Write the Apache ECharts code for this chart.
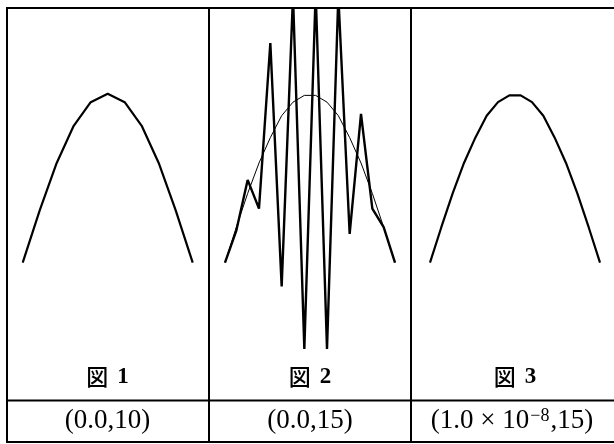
<!DOCTYPE html>
<html lang="ja">
<head>
  <meta charset="UTF-8">
  <title>図 1-3</title>
  <script src="https://cdn.jsdelivr.net/npm/echarts@6/dist/echarts.min.js"></script>
  <style>
    body { margin: 0; background: #fff; }
    #main { width: 614px; height: 444px; }
  </style>
</head>
<body>
  <div id="main"></div>
  <script>
    // 格子点
    const ticks10 = ['0', '1', '2', '3', '4', '5', '6', '7', '8', '9', '10'];
    const ticks15 = ['0', '1', '2', '3', '4', '5', '6', '7', '8', '9', '10', '11', '12', '13', '14', '15'];

    // 図 1 (0.0,10)
    const fig1 = [0, 0.31, 0.59, 0.81, 0.95, 1.0, 0.95, 0.81, 0.59, 0.31, 0];
    // 図 2 (0.0,15) : 計算値 と 細線
    const fig2 = [0, 0.19, 0.49, 0.32, 1.30, -0.14, 1.58, -0.51, 1.60, -0.51, 1.58, 0.17, 0.88, 0.32, 0.21, 0];
    const fig2Thin = [0, 0.21, 0.41, 0.59, 0.74, 0.87, 0.95, 0.99, 0.99, 0.95, 0.87, 0.74, 0.59, 0.41, 0.21, 0];
    // 図 3 (1.0e-8,15)
    const fig3 = [0, 0.21, 0.41, 0.59, 0.74, 0.87, 0.95, 0.99, 0.99, 0.95, 0.87, 0.74, 0.59, 0.41, 0.21, 0];

    const figNames = ['1', '2', '3'];

    const chart = echarts.init(document.getElementById('main'));

    const Y_MIN = -0.6, Y_MAX = 1.5;
    const ZERO_Y = 262.7, UNIT = 169;
    const gridTop = ZERO_Y - Y_MAX * UNIT;
    const gridH = (Y_MAX - Y_MIN) * UNIT;
    const lefts = [22.7, 225, 430];

    const grids = lefts.map(l => ({ left: l, top: gridTop, width: 170, height: gridH }));
    const xAxes = [ticks10, ticks15, ticks15].map((d, i) => ({
      type: 'category', gridIndex: i, data: d, boundaryGap: false, show: false
    }));
    const yAxes = [0, 1, 2].map(i => ({
      type: 'value', gridIndex: i, min: Y_MIN, max: Y_MAX, show: false
    }));

    const line = (data, i, w) => ({
      type: 'line', xAxisIndex: i, yAxisIndex: i, data: data,
      symbol: 'none', clip: true,
      lineStyle: { color: '#000', width: w }
    });

    // 表の罫線
    const rule = (x1, y1, x2, y2) => ({
      type: 'line', z: 10,
      shape: { x1: x1, y1: y1, x2: x2, y2: y2 },
      style: { stroke: '#000', lineWidth: 2 }
    });

    const labelRich = {
      a: { fontFamily: 'Noto Sans CJK JP', fontSize: 22, fontWeight: 500, color: '#000' },
      b: { fontFamily: 'Liberation Serif', fontWeight: 'bold', fontSize: 23, color: '#000', padding: [0, 0, 0, 9] }
    };
    const centers = [107.5, 310, 515];

    const texts = [];
    centers.forEach((cx, i) => {
      texts.push({
        type: 'text', x: cx, y: 377, z: 10,
        style: {
          text: '{a|図}{b|' + figNames[i] + '}',
          rich: labelRich, align: 'center', verticalAlign: 'middle'
        }
      });
    });
    const paramRich = {
      t: { fontFamily: 'Liberation Serif', fontSize: 27, color: '#000' },
      s: { fontFamily: 'Liberation Serif', fontSize: 18, color: '#000', verticalAlign: 'top', padding: [0, 1, 10, 1] }
    };
    const params = ['{t|(0.0,10)}', '{t|(0.0,15)}', '{t|(1.0 × 10}{s|−8}{t|,15)}'];
    [107.5, 310, 512].forEach((cx, i) => {
      texts.push({
        type: 'text', x: cx, y: 421, z: 10,
        style: { text: params[i], rich: paramRich, align: 'center', verticalAlign: 'middle' }
      });
    });

    chart.setOption({
      animation: false,
      grid: grids,
      xAxis: xAxes,
      yAxis: yAxes,
      series: [
        line(fig1, 0, 2.2),
        line(fig2Thin, 1, 1),
        line(fig2, 1, 2.4),
        line(fig3, 2, 2.2)
      ],
      graphic: [
        rule(6, 8, 614, 8),
        rule(7, 7, 7, 443),
        rule(209, 8, 209, 443),
        rule(411, 8, 411, 443),
        rule(6, 400.5, 614, 400.5),
        rule(6, 442, 614, 442)
      ].concat(texts)
    });
  </script>
</body>
</html>
